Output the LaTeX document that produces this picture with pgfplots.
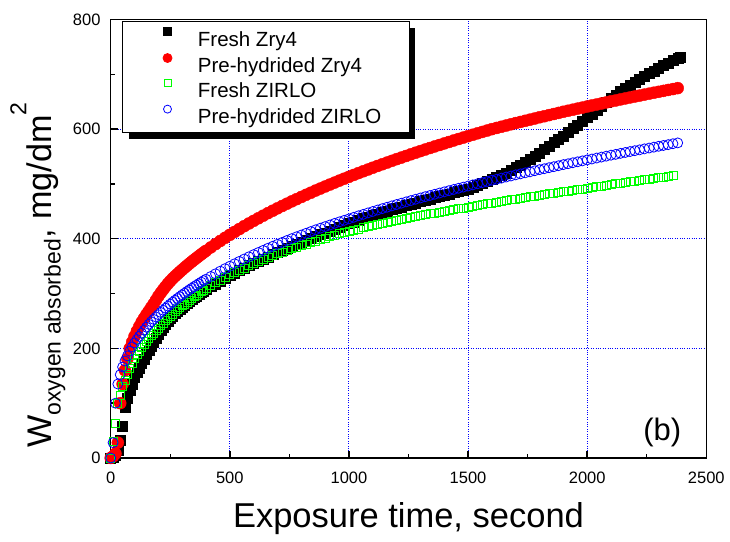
\documentclass[border=0pt]{standalone}
\usepackage{fontspec}
\setmainfont{Liberation Sans}
\usepackage{pgfplots}
\pgfplotsset{compat=1.18}
\usetikzlibrary{shadows}

\definecolor{puregreen}{RGB}{0,255,0}
\definecolor{pureblue}{RGB}{0,0,255}
\definecolor{purered}{RGB}{255,0,0}

% legend image: a single mark of the given size, with room for the gap before the text
\pgfplotsset{
  markonly legend/.style={
    legend image code/.code={%
      \path (0pt,0pt) (75pt,0pt);
      \draw[##1,only marks,mark size=#1] plot coordinates {(45pt,6.5pt)};
    }
  }
}

\begin{document}
\begin{tikzpicture}
\useasboundingbox (-110.7pt,-83pt) rectangle (619.3pt,458pt);
\begin{axis}[
  scale only axis,
  width=595.6pt, height=438.5pt,
  xmin=0, xmax=2500, ymin=0, ymax=800,
  xtick={0,500,...,2500}, ytick={0,200,...,800},
  minor x tick num=1, minor y tick num=1,
  tick align=inside, tick pos=left,
  major tick length=7pt, minor tick length=4.5pt,
  tick style={black, line width=1.4pt},
  axis line style={black, line width=1.6pt},
  grid=major,
  major grid style={pureblue, dotted, line width=0.9pt},
  /pgf/number format/assume math mode=true,
  /pgf/number format/1000 sep={},
  ticklabel style={font=\fontsize{16.5}{19}\selectfont},
  xticklabel style={anchor=north, inner sep=0pt, yshift=-14pt},
  yticklabel style={anchor=east, inner sep=0pt, xshift=-10pt},
  every axis x label/.style={at={(axis description cs:0.5,-0.1574)}, anchor=base,
    font=\fontsize{34.5}{40}\selectfont},
  every axis y label/.style={at={(axis description cs:-0.0986,0.417)}, rotate=90, anchor=base,
    font=\fontsize{34.2}{40}\selectfont},
  xlabel={Exposure time, second},
  ylabel={W\raisebox{-0.25em}{\fontsize{23}{26}\selectfont oxygen absorbed}, mg/dm\raisebox{0.75em}{\fontsize{23}{26}\selectfont 2}},
  legend style={
    at={(axis description cs:0.0185,0.997)}, anchor=north west,
    draw=black, line width=0.8pt, fill=white,
    inner xsep=0pt, inner ysep=6.5pt, row sep=5.3pt,
    font=\fontsize{20.5}{24}\selectfont,
    nodes={inner sep=0pt, text height=18pt, text depth=2pt},
    drop shadow={shadow xshift=6.5pt, shadow yshift=-7pt, fill=black, opacity=1},
  },
  legend cell align=left,
]

% Fresh Zry4
\addplot[only marks, mark=square*, mark size=5pt, black, markonly legend=4pt] table {
t W
0 0
10 2
20 6
30 15
40 32
50 58
60 92
70 108.5
80 123
90 135.5
100 147
110 155.8
120 164
130 172.6
140 181
150 188.6
160 196
170 203.6
180 211
190 218.6
200 226
210 232.6
220 239
230 244.6
240 250
250 254.6
260 259
270 263.6
280 268
290 272.1
300 276
310 279.6
320 283
330 286.6
340 290
350 293.1
360 296
370 299.1
380 302
390 305.1
400 308
420 313
440 318
460 323
480 328
500 333
520 337.5
540 342
560 346.5
580 351
600 355
620 359
640 363
660 367
680 371
700 375
720 378.7
740 382.4
760 386
780 389.5
800 393
820 396.6
840 400.2
860 403.8
880 407.4
900 411
920 414.4
940 417.8
960 421.2
980 424.6
1000 428
1020 431
1040 434
1060 437
1080 440
1100 443
1120 445.6
1140 448.2
1160 450.8
1180 453.4
1200 456
1220 458.4
1240 460.8
1260 463.2
1280 465.6
1300 468
1320 470.4
1340 472.8
1360 475.2
1380 477.6
1400 480
1420 482.2
1440 484.4
1460 486.6
1480 488.8
1500 491
1520 494.4
1540 497.6
1560 501
1580 504.5
1600 508
1620 512
1640 516
1660 520.5
1680 525
1700 530
1720 535
1740 540.5
1760 546
1780 551.5
1800 557
1820 563
1840 569
1860 575.5
1880 581.5
1900 588
1920 594.5
1940 601
1960 607.5
1980 614
2000 621
2020 628
2040 635
2060 642
2080 649
2100 656
2120 662.5
2140 669
2160 675
2180 680.5
2200 686
2220 691.3
2240 696.5
2260 701.5
2280 706.3
2300 711
2320 715.8
2340 720.5
2360 725
2380 729.5
2390 732
};
\addlegendentry{\makebox[211pt][l]{Fresh Zry4}}

% Pre-hydrided Zry4
\addplot[only marks, mark=*, mark size=6pt, purered, markonly legend=4.5pt] table {
t W
0 0
10 3
20 8
30 28
40 100
50 135
60 160
70 181
80 200
90 211.5
100 222
110 231.5
120 240
130 248
140 255
150 261.8
160 268
170 274.6
180 281
190 288
200 295
210 301.2
220 307
230 312.7
240 318
250 322.8
260 327.4
270 331.6
280 335.6
290 339.6
300 343.4
310 347.2
320 350.9
330 354.6
340 358.1
350 361.6
360 364.9
370 368.3
380 371.6
390 374.9
400 378.0
420 384.2
440 390.2
460 396.0
480 401.7
500 407.2
520 412.5
540 417.7
560 422.9
580 427.8
600 432.7
620 437.4
640 442.1
660 446.7
680 451.1
700 455.5
720 459.8
740 464.0
760 468.2
780 472.2
800 476.2
820 480.2
840 484.0
860 487.9
880 491.6
900 495.3
920 498.9
940 502.5
960 506.1
980 509.6
1000 513.0
1020 516.4
1040 519.8
1060 523.1
1080 526.3
1100 529.6
1120 532.8
1140 535.9
1160 539.0
1180 542.1
1200 545.2
1220 548.1
1240 551.1
1260 554.1
1280 557.0
1300 559.9
1320 562.8
1340 565.6
1360 568.4
1380 571.1
1400 573.9
1420 576.6
1440 579.3
1460 582.0
1480 584.6
1500 587.2
1520 589.8
1540 592.4
1560 594.9
1580 597.4
1600 600.0
1620 602.2
1640 604.4
1660 606.6
1680 608.8
1700 611.1
1720 613.1
1740 615.2
1760 617.3
1780 619.4
1800 621.6
1820 623.5
1840 625.6
1860 627.6
1880 629.6
1900 631.7
1920 633.6
1940 635.5
1960 637.5
1980 639.3
2000 641.3
2020 643.2
2040 645.0
2060 646.8
2080 648.7
2100 650.7
2120 652.3
2140 654.2
2160 656.0
2180 657.8
2200 659.5
2220 661.2
2240 663.0
2260 664.7
2280 666.5
2300 668.1
2320 669.8
2340 671.5
2360 673.1
2380 674.8
};
\addlegendentry{\makebox[211pt][l]{Pre-hydrided Zry4}}

% Fresh ZIRLO
\addplot[only marks, mark=square, mark size=4pt, line width=0.8pt, puregreen, markonly legend=3.5pt] table {
t W
0 0
10 30
20 64
30 100
40 115
50 131
60 142
70 152.8
80 163
90 172.2
100 181
110 188.2
120 195
130 201.2
140 207
150 212.6
160 218
170 223.1
180 228
190 232.6
200 236.9
210 241.4
220 245.9
230 250.2
240 254.4
250 258.6
260 262.8
270 266.8
280 270.7
290 274.3
300 277.7
310 281.1
320 284.4
330 287.7
340 290.9
350 294.0
360 297.1
370 300.2
380 303.3
390 306.3
400 309.2
420 314.4
440 319.6
460 324.6
480 329.5
500 334.2
520 338.5
540 342.6
560 346.7
580 350.6
600 354.4
620 358.1
640 361.8
660 365.5
680 368.9
700 372.4
720 375.5
740 378.6
760 381.7
780 384.7
800 387.5
820 390.4
840 393.2
860 396.0
880 398.6
900 401.2
920 403.8
940 406.4
960 408.9
980 411.2
1000 413.6
1020 415.8
1040 417.9
1060 419.9
1080 422.0
1100 423.9
1120 425.9
1140 427.8
1160 429.7
1180 431.5
1200 433.4
1220 435.1
1240 436.9
1260 438.7
1280 440.5
1300 442.1
1320 443.9
1340 445.4
1360 447.0
1380 448.6
1400 450.2
1420 451.7
1440 453.3
1460 454.7
1480 456.1
1500 457.5
1520 459.1
1540 460.7
1560 462.3
1580 463.7
1600 465.4
1620 466.8
1640 468.3
1660 469.8
1680 471.2
1700 472.7
1720 474.0
1740 475.4
1760 476.7
1780 478.1
1800 479.6
1820 480.8
1840 482.1
1860 483.5
1880 484.7
1900 486.2
1920 487.2
1940 488.5
1960 489.7
1980 490.8
2000 492.2
2020 493.5
2040 494.9
2060 496.2
2080 497.6
2100 499.0
2120 500.2
2140 501.6
2160 502.8
2180 504.1
2200 505.4
2220 506.5
2240 507.9
2260 509.1
2280 510.3
2300 511.6
2320 512.7
2340 513.8
2360 515.1
};
\addlegendentry{\makebox[211pt][l]{Fresh ZIRLO}}

% Pre-hydrided ZIRLO
\addplot[only marks, mark=o, mark size=5pt, line width=0.8pt, pureblue, markonly legend=4pt] table {
t W
0 0
10 28
20 100
30 135
40 152
50 166
60 177
70 186.3
80 195
90 202.8
100 210
110 216.2
120 222
130 227.6
140 233
150 238.6
160 244
170 248.6
180 253
190 257.3
200 261.5
210 265.6
220 269.6
230 273.4
240 277.1
250 280.8
260 284.4
270 287.8
280 291.1
290 294.4
300 297.6
310 300.7
320 303.8
330 306.8
340 309.8
350 312.6
360 315.4
370 318.2
380 320.9
390 323.6
400 326.2
420 331.2
440 336.1
460 340.9
480 345.5
500 349.9
520 354.4
540 358.7
560 363.0
580 367.1
600 371.1
620 375.0
640 378.8
660 382.7
680 386.3
700 389.9
720 393.4
740 396.9
760 400.3
780 403.6
800 406.8
820 410.0
840 413.2
860 416.3
880 419.3
900 422.2
920 425.1
940 428.1
960 430.9
980 433.6
1000 436.3
1020 439.1
1040 441.9
1060 444.5
1080 447.2
1100 449.8
1120 452.4
1140 455.0
1160 457.5
1180 460.0
1200 462.5
1220 464.9
1240 467.3
1260 469.7
1280 472.1
1300 474.4
1320 476.8
1340 478.9
1360 481.2
1380 483.4
1400 485.6
1420 487.8
1440 490.0
1460 492.1
1480 494.2
1500 496.2
1520 498.3
1540 500.4
1560 502.5
1580 504.5
1600 506.7
1620 508.6
1640 510.6
1660 512.6
1680 514.5
1700 516.6
1720 518.4
1740 520.3
1760 522.1
1780 524.1
1800 526.1
1820 527.8
1840 529.7
1860 531.5
1880 533.3
1900 535.3
1920 536.9
1940 538.7
1960 540.4
1980 542.1
2000 543.9
2020 545.5
2040 547.3
2060 549.0
2080 550.7
2100 552.5
2120 554.0
2140 555.8
2160 557.4
2180 559.1
2200 560.7
2220 562.2
2240 564.0
2260 565.5
2280 567.1
2300 568.7
2320 570.2
2340 571.7
2360 573.4
2380 574.9
};
\addlegendentry{\makebox[211pt][l]{Pre-hydrided ZIRLO}}

\node[font=\fontsize{31}{36}\selectfont] at (axis cs:2315,47) {(b)};
\end{axis}
\end{tikzpicture}
\end{document}
